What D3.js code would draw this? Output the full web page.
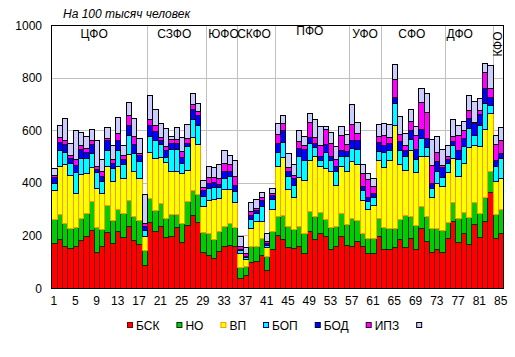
<!DOCTYPE html>
<html><head><meta charset="utf-8">
<script src="https://cdn.jsdelivr.net/npm/d3@7/dist/d3.min.js"></script>
<style>
body{margin:0;background:#fff}
svg{display:block}
text{font-family:"Liberation Sans",Arial,sans-serif;fill:#000}
</style>
</head><body>
<svg id="chart" width="515" height="357"></svg>
<script>
// ---- data ----
const regions = d3.range(1, 86);
const seriesNames = ["БСК", "НО", "ВП", "БОП", "БОД", "ИПЗ", ""];
const bsk = [171,186,158,152,158,184,196,219,136,158,212,171,215,194,237,184,168,89,250,215,237,195,196,232,174,241,279,250,136,127,114,139,158,165,158,38,51,98,101,127,70,148,200,186,156,152,161,133,215,186,209,196,148,158,196,165,158,177,158,133,133,196,150,147,155,185,155,189,150,227,180,138,147,138,189,256,176,208,167,243,193,256,366,189,208];
const no  = [91,96,91,76,73,82,91,110,96,66,105,86,85,91,96,89,89,54,92,82,86,70,86,51,73,89,95,109,76,82,72,76,79,82,75,42,32,61,57,63,51,67,75,92,81,72,73,76,76,89,79,66,84,79,89,80,108,82,51,57,57,70,82,80,72,76,123,85,90,85,94,89,80,82,63,72,89,82,104,85,91,89,80,92,91];
const vp  = [111,182,223,203,129,167,152,130,147,137,148,148,165,133,176,171,161,53,175,196,177,215,161,161,190,120,200,190,101,127,152,127,139,129,94,53,29,70,95,63,35,85,190,222,139,122,188,200,194,226,175,194,212,156,180,198,215,213,127,110,127,222,228,260,393,210,169,251,200,190,228,120,174,167,190,165,161,186,266,215,256,258,218,127,118];
const bop = [28,61,47,44,82,63,54,56,61,44,61,51,61,54,71,70,63,25,60,70,48,20,85,85,38,89,68,70,38,44,46,42,42,48,42,10,6,34,32,60,9,38,51,57,51,47,79,76,68,35,25,63,42,51,38,59,51,56,38,29,29,32,57,38,85,53,56,41,50,67,35,35,42,35,34,51,63,63,70,38,80,101,32,56,76];
const bod = [20,32,28,19,25,32,23,33,14,22,38,19,35,19,41,32,23,13,42,35,15,25,25,23,25,13,38,38,23,19,18,13,25,19,23,5,5,16,10,23,6,16,35,42,16,25,32,43,20,15,15,29,15,19,23,19,32,35,13,16,15,34,25,28,20,35,23,35,40,34,35,18,38,38,16,16,35,33,38,47,42,57,32,23,22];
const ipz = [9,19,14,10,25,16,15,13,9,16,6,15,28,15,35,32,11,15,24,22,13,14,13,15,22,19,20,15,10,23,20,22,34,29,32,10,10,13,9,10,6,6,35,28,16,13,25,16,60,25,42,56,51,28,57,25,60,25,51,68,25,23,41,20,68,28,19,35,50,105,98,67,38,8,9,18,57,30,32,4,15,61,32,60,48];
const other = [25,44,85,47,110,48,48,43,99,47,41,54,61,38,51,70,54,108,92,60,51,70,13,44,54,53,43,32,28,43,38,51,48,34,62,38,23,34,34,18,34,19,41,32,53,42,42,34,32,66,70,13,41,48,32,40,77,44,35,25,32,48,46,51,58,66,44,43,35,51,72,101,60,62,44,63,38,32,57,80,44,32,89,35,48];
const districts = ["ЦФО","СЗФО","ЮФО","СКФО","ПФО","УФО","СФО","ДФО","КФО"];
const districtSizes = [18,11,6,7,14,6,12,9,2];
const xTicks = d3.range(1, 86, 4);
const yTicks = [0,200,400,600,800,1000];
const title = "На 100 тысяч человек";

// ---- styles ----
const fills   = ["#ff0000","#00cc00","#ffff00","#00ffff","#0000ff","#ff00ff","#ccccff"];
const strokes = ["#800000","#003300","#ff9900","#000080","#000033","#330033","#000000"];

const svg = d3.select("#chart");
const L = 51.3, R = 503.3, T = 25, B = 288;
const x = d3.scaleBand().domain(regions).range([L, R]).padding(0);
const y = d3.scaleLinear().domain([0, 1000]).range([B, T]);

const seriesArrays = [bsk, no, vp, bop, bod, ipz, other];
const table = regions.map((r, i) => {
  const o = {region: r};
  seriesArrays.forEach((a, k) => o["s" + k] = a[i]);
  return o;
});
const keys = seriesArrays.map((a, k) => "s" + k);
const stacked = d3.stack().keys(keys)(table);

// gridlines
const g = svg.append("g");
g.selectAll("line.h").data(yTicks.filter(v => v > 0 && v < 1000)).enter().append("line")
  .attr("x1", L).attr("x2", R)
  .attr("y1", d => Math.round(y(d)) + 0.5).attr("y2", d => Math.round(y(d)) + 0.5)
  .attr("stroke", "#c0c0c0").attr("stroke-width", 1);

// district boundaries
let acc = 0;
const bounds = [];
districtSizes.forEach((s, i) => { const start = acc + 1; acc += s; bounds.push({name: districts[i], start, end: acc}); });
g.selectAll("line.v").data(bounds.slice(1)).enter().append("line")
  .attr("x1", d => Math.round(x(d.start)) + 0.5).attr("x2", d => Math.round(x(d.start)) + 0.5)
  .attr("y1", T).attr("y2", B)
  .attr("stroke", "#c0c0c0").attr("stroke-width", 1);

// bars
const px = r => Math.round(x(r));
stacked.forEach((layer, k) => {
  svg.append("g").selectAll("rect").data(layer).enter().append("rect")
    .attr("x", d => px(d.data.region) + 0.5)
    .attr("width", d => {
      const r = d.data.region;
      const nx = r < 85 ? px(r + 1) : Math.round(R);
      return nx - px(r);
    })
    .attr("y", d => Math.round(y(d[1])) + 0.5)
    .attr("height", d => Math.max(0, Math.round(y(d[0])) - Math.round(y(d[1]))))
    .attr("fill", fills[k]).attr("stroke", strokes[k]).attr("stroke-width", 1)
    .attr("shape-rendering", "crispEdges");
});

// frame
svg.append("rect").attr("x", Math.round(L) + 0.5).attr("y", T + 0.5)
  .attr("width", Math.round(R) - Math.round(L)).attr("height", B - T)
  .attr("fill", "none").attr("stroke", "#000").attr("stroke-width", 1);

// y axis labels
svg.append("g").selectAll("text").data(yTicks).enter().append("text")
  .attr("x", 42).attr("y", d => y(d) + 4.5)
  .attr("text-anchor", "end").attr("font-size", 12).text(d => d);

// x axis labels
svg.append("g").selectAll("text").data(xTicks).enter().append("text")
  .attr("x", d => x(d) + x.bandwidth() / 2).attr("y", 305)
  .attr("text-anchor", "middle").attr("font-size", 12).text(d => d);

// title
svg.append("text").attr("x", 63).attr("y", 18).attr("font-size", 12)
  .attr("font-style", "italic").text(title);

// district labels
const labelNudge = {"ЦФО": -5, "СЗФО": -2, "ЮФО": 2, "СКФО": -2, "ПФО": -2, "УФО": 0, "СФО": -1, "ДФО": -9};
bounds.forEach(b => {
  const cx = (x(b.start) + x(b.end) + x.bandwidth()) / 2;
  if (b.name === "КФО") {
    svg.append("text").attr("transform", `translate(${cx + 4},${44}) rotate(-90)`)
      .attr("text-anchor", "middle").attr("font-size", 12).text(b.name);
  } else {
    svg.append("text").attr("x", cx + (labelNudge[b.name] || 0))
      .attr("y", b.name === "ПФО" ? 35 : 37.5)
      .attr("text-anchor", "middle").attr("font-size", 12).text(b.name);
  }
});

// legend
const lg = svg.append("g");
let lx = 127;
seriesNames.forEach((n, k) => {
  lg.append("rect").attr("x", lx + 0.5).attr("y", 322.5).attr("width", 5).attr("height", 5)
    .attr("fill", fills[k]).attr("stroke", strokes[k]);
  const t = lg.append("text").attr("x", lx + 9).attr("y", 329.5).attr("font-size", 12).text(n);
  const w = t.node().getComputedTextLength();
  lx += 9 + w + 17;
});
</script>
</body></html>
